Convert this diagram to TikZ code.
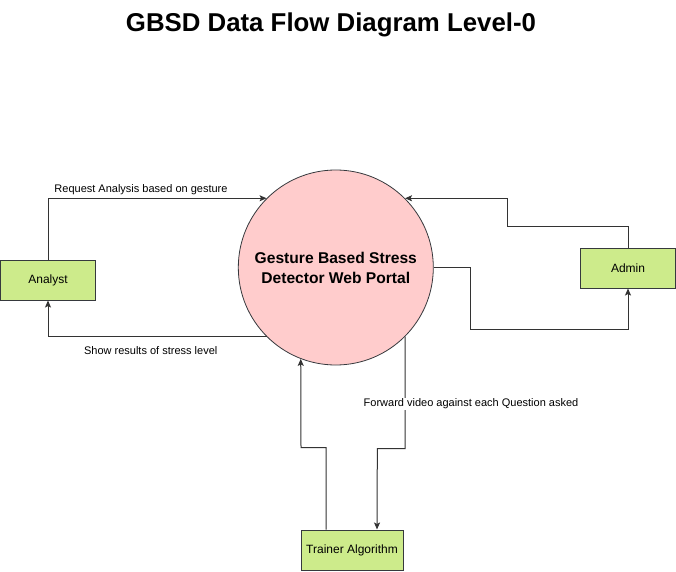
\documentclass[tikz,border=0pt]{standalone}
\usepackage{fontspec}
\setmainfont{Liberation Sans}
\usetikzlibrary{arrows.meta}
\definecolor{boxgreen}{HTML}{CDEB8B}
\definecolor{procpink}{HTML}{FFCCCC}
\definecolor{edgegray}{HTML}{36393D}
\begin{document}
\begin{tikzpicture}[x=1pt,y=1pt,
    entity/.style={draw=edgegray,fill=boxgreen,minimum width=95pt,minimum height=40pt,
      inner sep=0pt,line width=1pt,font=\fontsize{12}{14}\selectfont},
    process/.style={circle,draw=edgegray,fill=procpink,minimum size=195pt,inner sep=0pt,
      line width=0.8pt,align=center,font=\fontsize{15.6}{20}\selectfont\bfseries},
    flow/.style={draw=black!80,line width=1pt,-{Stealth[length=7pt,width=6pt,inset=1.5pt]}},
    lbl/.style={font=\fontsize{11}{13}\selectfont,inner sep=1pt}]
        \useasboundingbox (0,0) rectangle (676,571);
        \node[font=\fontsize{25.8}{30}\selectfont\bfseries] (title) at (331,546) {GBSD Data Flow Diagram Level-0};
        \node[process] (gbsd) at (335.8,303.5) {Gesture Based Stress\\Detector Web Portal};
        \node[entity] (analyst) at (48,291) {Analyst};
        \node[entity] (admin) at (628,303) {Admin};
        \node[entity,minimum width=102pt] (trainer) at (352,21) {Trainer Algorithm};
        % flows
        \draw[flow] (analyst.north) |- (gbsd.135);
        \draw[flow] (gbsd.225) -| (analyst.south);
        \draw[flow] (admin.north) |- ++(-121,21) |- (gbsd.45);
        \draw[flow] (gbsd.0) -| ++(37,-62) -| (admin.south);
        \draw[flow] (gbsd.-45) |- ++(-27.7,-112) -- ([xshift=25pt]trainer.north);
        \draw[flow] ([xshift=-26pt]trainer.north) |- ++(-25,82) -- (gbsd.249);
        % labels
        \node[lbl] (lreq) at (141,381) {Request Analysis based on gesture};
        \node[lbl] (lshow) at (150.7,220) {Show results of stress level};
        \node[lbl,fill=white] (lfwd) at (471,167) {Forward video against each Question asked};
\end{tikzpicture}
\end{document}
